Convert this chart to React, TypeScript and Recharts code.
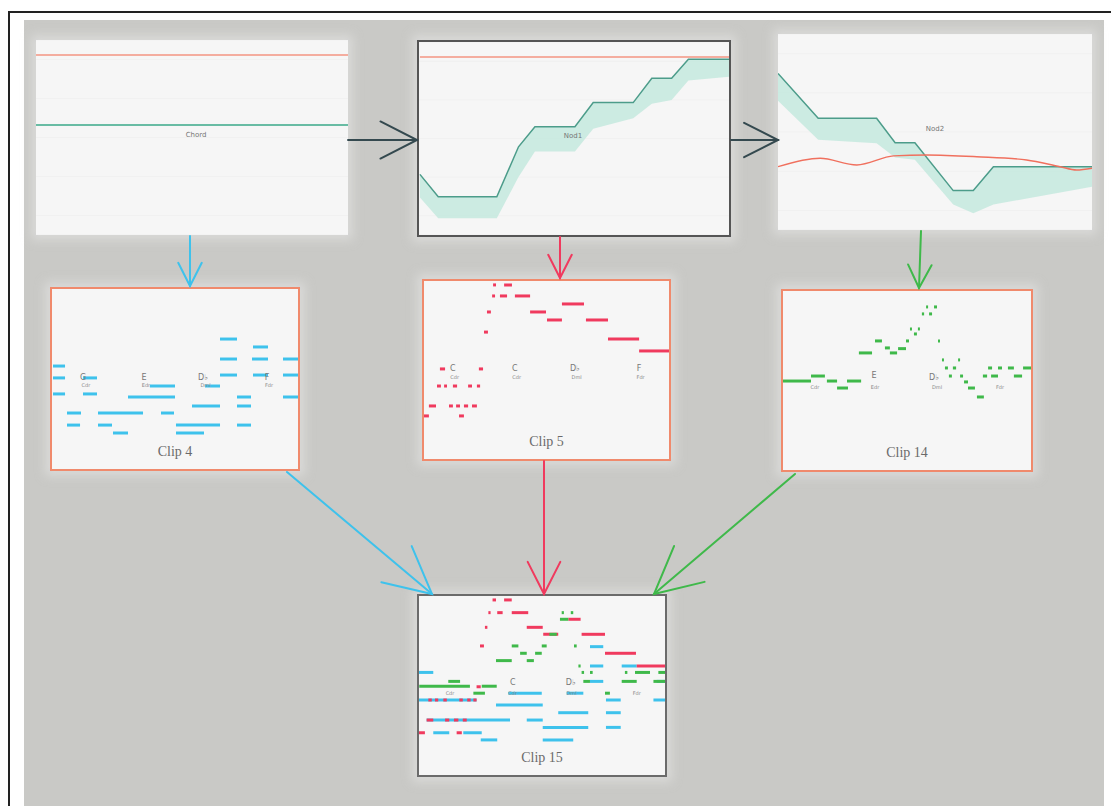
import React from "react";
import { ComposedChart, Line, Area, XAxis, YAxis, CartesianGrid, ReferenceArea, Scatter } from "recharts";

// ---- top row: pitch contours (x: 0-100 time, y: 0-100 pitch) ----
const chordX = [0, 100];
const chordRed = [92.3, 92.3];
const chordGreen = [56.4, 56.4];

const nod1X = [0.3, 6.2, 25.1, 32.1, 37.4, 50.3, 56.2, 69.1, 75.1, 81.5, 86.9, 100];
const nod1Line = [31.4, 19.8, 19.8, 45.7, 56.1, 56.1, 68.6, 68.6, 81.2, 81.2, 91.0, 91.0];
const nod1Low = [19.4, 8.7, 8.7, 30, 43.2, 43.2, 55, 60.5, 68, 70, 80, 82];
const nod1Ref = 92.2;

const nod2X = [0, 12.8, 31.4, 37.3, 43.6, 55.8, 62.2, 68.6, 100];
const nod2Line = [79.9, 57.0, 57.0, 44.5, 44.5, 20.1, 20.1, 32.3, 32.3];
const nod2Low = [66, 46, 44.2, 37, 35.9, 13, 8.5, 13, 22.1];
const nod2RefX = [0, 13.4, 25.1, 36.8, 47.4, 63.3, 79.2, 89.8, 95.1, 100];
const nod2Ref = [32.3, 36.6, 33.2, 37.8, 38.3, 37.4, 35.7, 32.3, 30.6, 31.5];

// ---- clips: notes as [start, end, pitch] ----
type Note = [number, number, number];

const clip4Notes: Note[] = [
  [0.4, 5.3, 57.2],
  [0.4, 5.3, 50.6], [12.6, 18.3, 50.6],
  [0.4, 5.3, 41.7], [12.6, 18.3, 41.7],
  [6.1, 11.8, 31.1], [18.7, 37.0, 31.1], [44.3, 49.6, 31.1],
  [6.1, 11.4, 24.4], [18.7, 24.4, 24.4], [50.4, 68.3, 24.4], [75.2, 80.9, 24.4],
  [24.8, 30.9, 20.0], [50.4, 61.8, 20.0],
  [56.9, 68.3, 35.0], [75.2, 80.9, 35.0],
  [30.9, 50.0, 40.0], [75.2, 80.9, 40.0], [93.9, 100, 40.0],
  [39.8, 50.0, 46.1], [62.2, 68.3, 46.1],
  [68.3, 75.2, 52.2], [81.7, 87.8, 52.2], [93.9, 100, 52.2],
  [68.3, 75.2, 61.1], [81.3, 87.8, 61.1], [93.9, 100, 61.1],
  [81.7, 87.8, 67.8],
  [68.3, 75.2, 72.2],
];

const clip5Notes: Note[] = [
  [28.2, 29.4, 97.8], [32.7, 35.9, 97.8],
  [27.8, 29.0, 91.6], [31.0, 33.9, 91.6], [37.1, 43.3, 91.6],
  [56.3, 65.3, 87.1],
  [25.7, 27.3, 82.6], [43.3, 49.8, 82.6],
  [50.2, 56.3, 78.1], [66.1, 75.1, 78.1],
  [24.5, 26.1, 71.3],
  [75.1, 87.8, 67.4],
  [87.8, 100, 60.7],
  [6.5, 8.6, 50.6], [22.4, 24.1, 50.6],
  [5.3, 6.9, 41.0], [8.2, 9.4, 41.0], [11.8, 13.5, 41.0], [18.0, 19.6, 41.0], [21.6, 22.9, 41.0],
  [2.0, 4.9, 29.8], [10.2, 11.8, 29.8], [13.1, 14.7, 29.8], [16.3, 18.0, 29.8], [19.6, 21.6, 29.8],
  [0, 2.0, 24.2], [14.3, 16.3, 24.2],
];

const clip14Notes: Note[] = [
  [0, 11.3, 49.7], [17.7, 21.8, 49.7], [25.8, 31.5, 49.7],
  [11.3, 16.9, 52.5],
  [21.8, 26.2, 45.8],
  [30.6, 35.9, 65.4], [43.1, 46.0, 65.4],
  [37.1, 39.9, 72.1], [49.6, 50.8, 72.1], [62.5, 63.3, 72.1],
  [41.1, 43.1, 68.2], [46.4, 49.6, 67.8],
  [51.2, 52.0, 78.8], [54.4, 55.2, 78.8],
  [52.8, 54.0, 76.0],
  [56.0, 56.9, 87.2], [58.9, 60.1, 87.2],
  [57.7, 58.5, 91.1], [60.9, 62.1, 91.1],
  [64.1, 64.9, 61.5], [70.6, 71.4, 61.5],
  [65.3, 66.5, 57.0], [68.5, 69.8, 57.0], [82.7, 84.3, 57.0], [86.7, 88.3, 57.0], [90.7, 93.1, 57.0], [96.8, 100, 57.0],
  [66.9, 68.1, 52.5], [71.4, 72.6, 52.5], [80.6, 82.3, 52.5], [83.9, 86.7, 52.5], [93.1, 96.4, 52.5],
  [73.0, 74.6, 49.2],
  [74.6, 77.4, 45.8],
  [78.2, 81.0, 40.8],
];

const clip15Blue: Note[] = [
  [69.5, 74.9, 71.7],
  [69.5, 74.9, 60.9], [82.4, 88.5, 60.9],
  [0, 5.8, 57.3],
  [69.5, 74.9, 52.3], [96.6, 100, 52.3],
  [36.3, 49.9, 45.7], [60.0, 66.8, 45.7],
  [0, 23.4, 41.9], [76.0, 82.0, 41.9], [95.3, 100, 41.9],
  [31.3, 50.3, 39.1],
  [56.6, 68.8, 34.8], [76.0, 82.0, 34.8],
  [3.1, 37.0, 30.7], [43.8, 50.3, 30.7],
  [50.3, 68.8, 26.6], [76.0, 82.0, 26.6],
  [5.8, 12.3, 23.6], [18.0, 25.5, 23.6],
  [25.1, 31.8, 19.6], [50.3, 62.7, 19.6],
];

const clip15Red: Note[] = [
  [29.9, 31.3, 97.8], [34.6, 37.7, 97.8],
  [28.2, 29.1, 90.7], [31.8, 34.0, 90.7], [37.7, 44.4, 90.7],
  [60.7, 65.7, 87.0],
  [26.8, 27.8, 82.5], [43.8, 50.3, 82.5],
  [50.5, 56.6, 78.6], [66.1, 75.6, 78.6],
  [24.8, 26.4, 72.1],
  [75.6, 88.2, 68.0],
  [88.5, 100, 60.9],
  [23.4, 25.1, 49.3],
  [3.8, 5.2, 41.9], [6.5, 7.8, 41.9], [9.9, 11.3, 41.9], [16.4, 17.8, 41.9], [19.6, 21.0, 41.9], [22.1, 23.4, 41.9],
  [3.1, 5.8, 30.7], [10.6, 12.3, 30.7], [14.2, 16.0, 30.7], [17.8, 19.4, 30.7],
  [0, 2.4, 23.6], [15.3, 17.4, 23.6],
];

const clip15Green: Note[] = [
  [58.0, 58.9, 90.7], [61.7, 62.7, 90.7],
  [57.3, 60.7, 87.0],
  [53.0, 56.0, 78.6],
  [37.7, 40.4, 72.1], [49.9, 51.9, 72.1], [63.0, 64.1, 72.1],
  [41.1, 43.8, 68.0], [47.2, 49.9, 68.0],
  [31.3, 37.7, 63.9], [43.8, 46.7, 63.9],
  [64.8, 65.7, 60.9],
  [66.1, 67.1, 57.3], [69.5, 70.6, 57.3], [83.7, 84.7, 57.3], [87.8, 93.9, 57.3], [97.3, 100, 57.3],
  [11.9, 16.7, 52.3], [66.8, 69.5, 52.3], [82.4, 88.5, 52.3], [95.3, 100, 52.3],
  [0.1, 20.7, 49.6], [25.5, 31.6, 49.6],
  [22.1, 26.8, 45.7], [75.6, 77.6, 45.7],
];

// chord symbols and their small captions
const clip4Chords = [{ x: 12.6, y: 51, t: "G" }, { x: 37.4, y: 51, t: "E" }, { x: 61.4, y: 51, t: "D♭" }, { x: 87.4, y: 51, t: "F" }];
const clip4Subs = [{ x: 13.8, y: 46.5, t: "Cdr" }, { x: 38.2, y: 46.5, t: "Edr" }, { x: 62.4, y: 46.5, t: "Dml" }, { x: 88.2, y: 46.5, t: "Fdr" }];
const clip5Chords = [{ x: 11.8, y: 51, t: "C" }, { x: 37.1, y: 51, t: "C" }, { x: 61.6, y: 51, t: "D♭" }, { x: 87.8, y: 51, t: "F" }];
const clip5Subs = [{ x: 12.5, y: 45.5, t: "Cdr" }, { x: 37.8, y: 45.5, t: "Cdr" }, { x: 62.3, y: 45.5, t: "Dml" }, { x: 88.4, y: 45.5, t: "Fdr" }];
const clip14Chords = [{ x: 36.7, y: 53, t: "E" }, { x: 60.9, y: 51.4, t: "D♭" }];
const clip14Subs = [{ x: 12.9, y: 45.8, t: "Cdr" }, { x: 37.1, y: 45.8, t: "Edr" }, { x: 62.1, y: 45.8, t: "Dml" }, { x: 87.5, y: 45.8, t: "Fdr" }];
const clip15Chords = [{ x: 38.1, y: 51.6, t: "C" }, { x: 61.7, y: 51.6, t: "D♭" }];
const clip15Subs = [{ x: 12.6, y: 45.7, t: "Cdr" }, { x: 38.1, y: 45.7, t: "Cdr" }, { x: 62, y: 45.7, t: "Dml" }, { x: 88.5, y: 45.7, t: "Fdr" }];

const BLUE = "#3ec2ec";
const RED = "#f03a5e";
const GREEN = "#3fb94a";
const DARK = "#34494f";
const ORANGE = "#f08a6c";
const zero = { top: 0, right: 0, bottom: 0, left: 0 };
const gridTicks = [10, 20, 30, 40, 50, 60, 70, 80, 90];

const textShape = (size: number, fill: string, family = "DejaVu Sans") => (p: any) => (
  <text x={p.cx} y={p.cy} fontSize={size} fill={fill} textAnchor="middle" dominantBaseline="middle" fontFamily={family}>
    {p.payload.t}
  </text>
);

function Axes() {
  return (
    <>
      <XAxis type="number" dataKey="x" domain={[0, 100]} hide />
      <YAxis type="number" dataKey="y" domain={[0, 100]} ticks={gridTicks} hide />
    </>
  );
}

function PianoRoll({ w, h, layers, chords, subs }: { w: number; h: number; layers: { color: string; notes: Note[] }[]; chords: any[]; subs: any[] }) {
  const hh = 150 / h;
  return (
    <ComposedChart width={w} height={h} margin={zero}>
      <XAxis type="number" dataKey="x" domain={[0, 100]} hide />
      <YAxis type="number" dataKey="y" domain={[0, 100]} hide />
      <Scatter data={subs} isAnimationActive={false} shape={textShape(5, "#888")} />
      <Scatter data={chords} isAnimationActive={false} shape={textShape(8, "#777")} />
      {layers.map((layer, li) =>
        layer.notes.map((n, i) => (
          <ReferenceArea key={li + "-" + i} x1={n[0]} x2={n[1]} y1={n[2] - hh} y2={n[2] + hh}
            fill={layer.color} fillOpacity={1} stroke="none" ifOverflow="visible" />
        ))
      )}
    </ComposedChart>
  );
}

function Panel({ left, top, w, h, border, children, title }: any) {
  return (
    <div style={{
      position: "absolute", left, top, width: w, height: h, boxSizing: "border-box",
      border: border ? `2px solid ${border}` : "none", background: "#f6f6f6",
      boxShadow: "0 0 10px 5px rgba(225,225,223,0.7)",
    }}>
      {children}
      {title && (
        <div style={{ position: "absolute", left: 0, right: 0, bottom: 9, textAlign: "center", fontFamily: "Liberation Serif", fontSize: 14, color: "#6a6a6a" }}>
          {title}
        </div>
      )}
    </div>
  );
}

function Arrow({ x1, y1, x2, y2, color, head }: any) {
  const a = Math.atan2(y1 - y2, x1 - x2);
  const s = 0.47;
  const p1 = [x2 + head * Math.cos(a + s), y2 + head * Math.sin(a + s)];
  const p2 = [x2 + head * Math.cos(a - s), y2 + head * Math.sin(a - s)];
  return (
    <g stroke={color} strokeWidth={2} fill="none" strokeLinecap="round">
      <line x1={x1} y1={y1} x2={x2} y2={y2} />
      <polyline points={`${p1[0]},${p1[1]} ${x2},${y2} ${p2[0]},${p2[1]}`} />
    </g>
  );
}

export default function App() {
  const chordRows = chordX.map((x, i) => ({ x, red: chordRed[i], green: chordGreen[i] }));
  const nod1Rows = nod1X.map((x, i) => ({ x, line: nod1Line[i], band: [nod1Low[i], nod1Line[i]], ref: nod1Ref }));
  const nod2Rows = nod2X.map((x, i) => ({ x, line: nod2Line[i], band: [nod2Low[i], nod2Line[i]] }));
  const nod2RefRows = nod2RefX.map((x, i) => ({ x, ref: nod2Ref[i] }));

  return (
    <div style={{ position: "absolute", left: 0, top: 0, width: 1111, height: 806, background: "#fff", overflow: "hidden" }}>
      <div style={{ position: "absolute", left: 8, top: 11, width: 1103, height: 2, background: "#222" }} />
      <div style={{ position: "absolute", left: 8, top: 11, width: 2, height: 795, background: "#222" }} />
      <div style={{ position: "absolute", left: 24, top: 20, width: 1080, height: 786, background: "#c9c9c6" }} />

      <Panel left={36} top={40} w={312} h={195}>
        <ComposedChart width={312} height={195} data={chordRows} margin={zero}>
          <CartesianGrid vertical={false} stroke="#f1f1f1" />
          <Axes />
          <Line dataKey="red" stroke="#f39482" strokeWidth={1.6} dot={false} isAnimationActive={false} />
          <Line dataKey="green" stroke="#69bca4" strokeWidth={2.2} dot={false} isAnimationActive={false} />
          <Scatter data={[{ x: 51.3, y: 51.3, t: "Chord" }]} isAnimationActive={false} shape={textShape(7, "#777")} />
        </ComposedChart>
      </Panel>

      <Panel left={417} top={40} w={314} h={197} border="#555">
        <ComposedChart width={310} height={193} data={nod1Rows} margin={zero}>
          <CartesianGrid vertical={false} stroke="#f1f1f1" />
          <Axes />
          <Area dataKey="band" type="linear" stroke="none" fill="#c4e9de" fillOpacity={0.85} isAnimationActive={false} />
          <Line dataKey="line" type="linear" stroke="#4c9c8a" strokeWidth={1.5} dot={false} isAnimationActive={false} />
          <Line dataKey="ref" stroke="#f39482" strokeWidth={1.6} dot={false} isAnimationActive={false} />
          <Scatter data={[{ x: 49.7, y: 51.3, t: "Nod1" }]} isAnimationActive={false} shape={textShape(7, "#777")} />
        </ComposedChart>
      </Panel>

      <Panel left={778} top={34} w={314} h={196}>
        <ComposedChart width={314} height={196} data={nod2Rows} margin={zero}>
          <CartesianGrid vertical={false} stroke="#f1f1f1" />
          <Axes />
          <Area dataKey="band" type="linear" stroke="none" fill="#c4e9de" fillOpacity={0.85} isAnimationActive={false} />
          <Line dataKey="line" type="linear" stroke="#4c9c8a" strokeWidth={1.5} dot={false} isAnimationActive={false} />
          <Line data={nod2RefRows} dataKey="ref" type="monotone" stroke="#f0705e" strokeWidth={1.4} dot={false} isAnimationActive={false} />
          <Scatter data={[{ x: 50, y: 51.4, t: "Nod2" }]} isAnimationActive={false} shape={textShape(7, "#777")} />
        </ComposedChart>
      </Panel>

      <Panel left={50} top={287} w={250} h={184} border={ORANGE} title="Clip 4">
        <PianoRoll w={246} h={180} layers={[{ color: BLUE, notes: clip4Notes }]} chords={clip4Chords} subs={clip4Subs} />
      </Panel>
      <Panel left={422} top={279} w={249} h={182} border={ORANGE} title="Clip 5">
        <PianoRoll w={245} h={178} layers={[{ color: RED, notes: clip5Notes }]} chords={clip5Chords} subs={clip5Subs} />
      </Panel>
      <Panel left={781} top={289} w={252} h={183} border={ORANGE} title="Clip 14">
        <PianoRoll w={248} h={179} layers={[{ color: GREEN, notes: clip14Notes }]} chords={clip14Chords} subs={clip14Subs} />
      </Panel>
      <Panel left={417} top={594} w={250} h={183} border="#6b6b6b" title="Clip 15">
        <PianoRoll w={246} h={179}
          layers={[{ color: BLUE, notes: clip15Blue }, { color: RED, notes: clip15Red }, { color: GREEN, notes: clip15Green }]}
          chords={clip15Chords} subs={clip15Subs} />
      </Panel>

      <svg width={1111} height={806} style={{ position: "absolute", left: 0, top: 0, pointerEvents: "none" }}>
        <Arrow x1={348} y1={140} x2={417} y2={140} color={DARK} head={41} />
        <Arrow x1={731} y1={140} x2={778} y2={140} color={DARK} head={38} />
        <Arrow x1={190} y1={236} x2={190} y2={286} color={BLUE} head={26} />
        <Arrow x1={560} y1={237} x2={560} y2={278} color={RED} head={26} />
        <Arrow x1={921} y1={231} x2={919} y2={288} color={GREEN} head={26} />
        <Arrow x1={287} y1={472} x2={432} y2={594} color={BLUE} head={52} />
        <Arrow x1={544} y1={461} x2={544} y2={594} color={RED} head={36} />
        <Arrow x1={795} y1={474} x2={654} y2={594} color={GREEN} head={52} />
      </svg>
    </div>
  );
}
